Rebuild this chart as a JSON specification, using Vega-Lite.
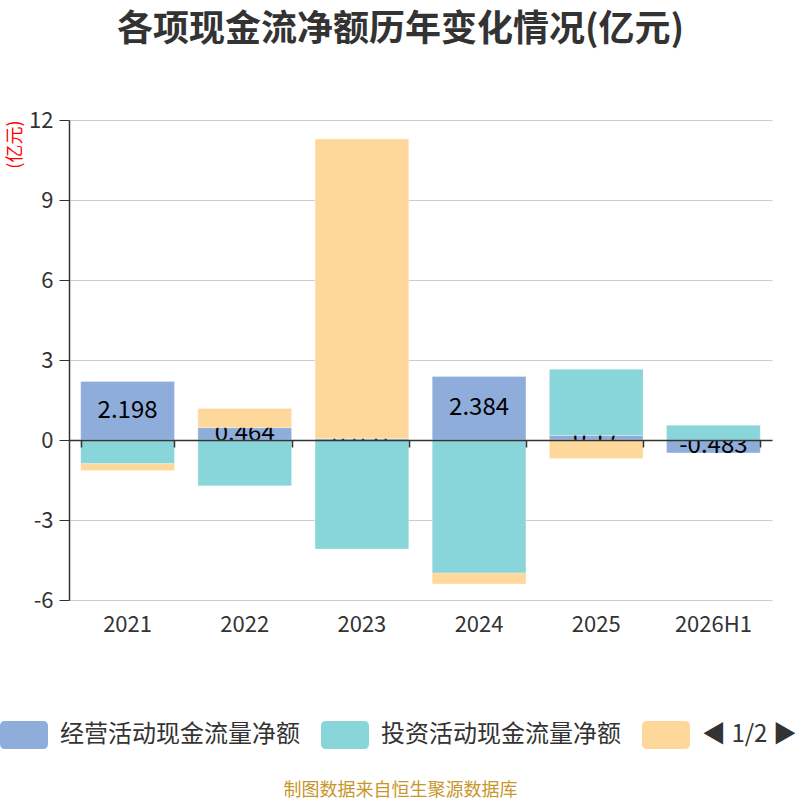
{
  "$schema": "https://vega.github.io/schema/vega-lite/v6.json",
  "width": 703,
  "height": 480,
  "autosize": {"type": "none"},
  "padding": {"left": 69, "top": 120, "right": 28, "bottom": 200},
  "background": "white",
  "title": {
    "text": "各项现金流净额历年变化情况(亿元)",
    "font": "Noto Sans CJK SC",
    "fontSize": 36,
    "fontWeight": "bold",
    "color": "#333333",
    "anchor": "middle",
    "dx": -20,
    "offset": 60
  },
  "config": {
    "view": {"stroke": null},
    "font": "Noto Sans CJK SC"
  },
  "data": {
    "values": [
      {"year": "2021", "series": "经营活动现金流量净额", "ord": 1, "value": 2.198, "label": "2.198"},
      {"year": "2021", "series": "投资活动现金流量净额", "ord": 2, "value": -0.89, "label": ""},
      {"year": "2021", "series": "筹资活动现金流量净额", "ord": 3, "value": -0.25, "label": ""},
      {"year": "2022", "series": "经营活动现金流量净额", "ord": 1, "value": 0.464, "label": "0.464"},
      {"year": "2022", "series": "投资活动现金流量净额", "ord": 2, "value": -1.72, "label": ""},
      {"year": "2022", "series": "筹资活动现金流量净额", "ord": 3, "value": 0.72, "label": ""},
      {"year": "2023", "series": "经营活动现金流量净额", "ord": 1, "value": 0.051, "label": "0.051"},
      {"year": "2023", "series": "投资活动现金流量净额", "ord": 2, "value": -4.09, "label": ""},
      {"year": "2023", "series": "筹资活动现金流量净额", "ord": 3, "value": 11.24, "label": ""},
      {"year": "2024", "series": "经营活动现金流量净额", "ord": 1, "value": 2.384, "label": "2.384"},
      {"year": "2024", "series": "投资活动现金流量净额", "ord": 2, "value": -4.99, "label": ""},
      {"year": "2024", "series": "筹资活动现金流量净额", "ord": 3, "value": -0.41, "label": ""},
      {"year": "2025", "series": "经营活动现金流量净额", "ord": 1, "value": 0.17, "label": "0.17"},
      {"year": "2025", "series": "投资活动现金流量净额", "ord": 2, "value": 2.48, "label": ""},
      {"year": "2025", "series": "筹资活动现金流量净额", "ord": 3, "value": -0.69, "label": ""},
      {"year": "2026H1", "series": "经营活动现金流量净额", "ord": 1, "value": -0.483, "label": "-0.483"},
      {"year": "2026H1", "series": "投资活动现金流量净额", "ord": 2, "value": 0.55, "label": ""}
    ]
  },
  "transform": [
    {"stack": "value", "groupby": ["year"], "sort": [{"field": "ord", "order": "ascending"}], "as": ["v0", "v1"], "offset": "zero"},
    {"calculate": "(datum.v0 + datum.v1) / 2", "as": "mid"}
  ],
  "resolve": {"axis": {"x": "independent"}},
  "layer": [
    {
      "transform": [{"filter": "datum.ord == 1"}],
      "mark": {"type": "bar", "stroke": "#ffffff", "strokeWidth": 0.5, "strokeOpacity": 0.6},
      "encoding": {
        "x": {
          "field": "year", "type": "nominal", "sort": null,
          "scale": {"paddingInner": 0.2, "paddingOuter": 0.1},
          "axis": {
            "orient": "bottom",
            "domain": false, "ticks": false, "grid": false,
            "labelAngle": 0, "labelFontSize": 22, "labelColor": "#333333", "labelPadding": 14,
            "title": "制图数据来自恒生聚源数据库",
            "titleFontSize": 18, "titleFontWeight": "normal", "titleColor": "#c8962b",
            "titleX": 331, "titleY": 190, "titleAlign": "center", "titleBaseline": "middle", "titleAnchor": null
          }
        },
        "y": {
          "field": "v0", "type": "quantitative",
          "scale": {"domain": [-6, 12], "nice": false, "zero": false},
          "axis": {
            "values": [-6, -3, 0, 3, 6, 9, 12],
            "labelExpr": "replace(datum.label, '−', '-')",
            "title": "(亿元)", "titleColor": "#ff0000", "titleFontSize": 18, "titleFontWeight": "normal",
            "titleX": -54, "titleY": 0, "titleAngle": -90, "titleAlign": "right", "titleBaseline": "middle",
            "labelFontSize": 22, "labelColor": "#333333", "labelPadding": 6,
            "tickSize": 10, "tickColor": "#333333", "domainColor": "#333333", "domainWidth": 1.5,
            "gridColor": "#cccccc", "gridWidth": 1
          }
        },
        "y2": {"field": "v1"},
        "color": {
          "field": "series", "type": "nominal",
          "scale": {
            "domain": ["经营活动现金流量净额", "投资活动现金流量净额", "筹资活动现金流量净额"],
            "range": ["#8eaddb", "#88d5da", "#fed89a"]
          },
          "legend": {
            "orient": "none", "legendX": -69, "legendY": 591,
            "direction": "horizontal", "title": null,
            "symbolType": "M-0.79,-0.583H0.79Q1,-0.583 1,-0.375V0.375Q1,0.583 0.79,0.583H-0.79Q-1,0.583 -1,0.375V-0.375Q-1,-0.583 -0.79,-0.583Z",
            "symbolSize": 2304, "symbolStrokeWidth": 0, "symbolOpacity": 1,
            "labelFontSize": 24, "labelColor": "#333333", "labelOffset": 12, "labelLimit": 400,
            "labelExpr": "datum.label == '筹资活动现金流量净额' ? '◀ 1/2 ▶' : datum.label",
            "columnPadding": 21
          }
        }
      }
    },
    {
      "transform": [{"filter": "datum.ord == 1"}],
      "mark": {"type": "text", "fontSize": 24, "color": "#000000", "baseline": "middle", "align": "center"},
      "encoding": {
        "x": {"field": "year", "type": "nominal", "sort": null, "axis": null},
        "y": {"field": "mid", "type": "quantitative", "axis": {"title": "(亿元)"}},
        "text": {"field": "label", "type": "nominal"}
      }
    },
    {
      "transform": [{"filter": "datum.ord != 1"}],
      "mark": {"type": "bar", "stroke": "#ffffff", "strokeWidth": 0.5, "strokeOpacity": 0.6},
      "encoding": {
        "x": {
          "field": "year", "type": "nominal", "sort": null,
          "axis": {
            "orient": "bottom", "offset": -160, "zindex": 1,
            "labels": false, "title": null, "grid": false,
            "domain": true, "domainColor": "#333333", "domainWidth": 1.5,
            "ticks": true, "tickBand": "extent", "tickSize": 7, "tickColor": "#333333", "tickWidth": 1.5
          }
        },
        "y": {"field": "v0", "type": "quantitative", "axis": {"title": "(亿元)"}},
        "y2": {"field": "v1"},
        "color": {"field": "series", "type": "nominal"}
      }
    }
  ]
}
